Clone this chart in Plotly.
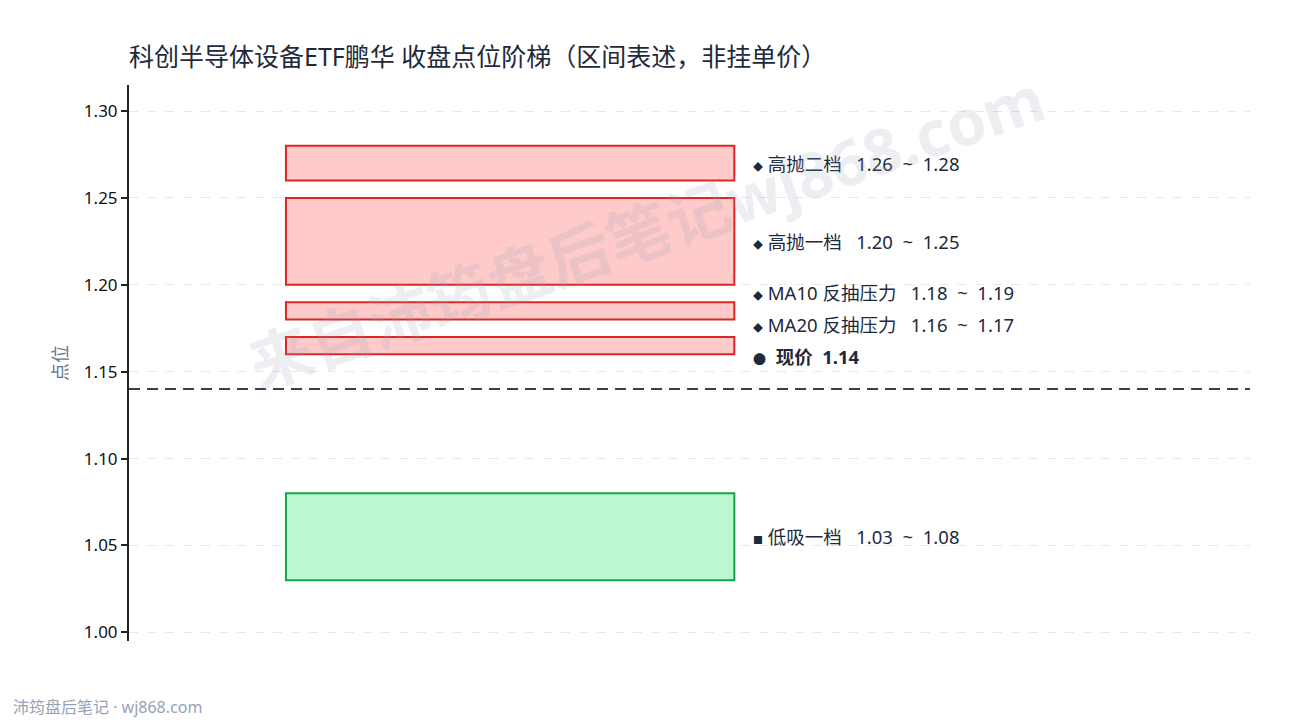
import plotly.graph_objects as go

# ---- data ----
zone_names = ["高抛二档", "高抛一档", "MA10 反抽压力", "MA20 反抽压力", "低吸一档"]
zone_low = [1.26, 1.20, 1.18, 1.16, 1.03]
zone_high = [1.28, 1.25, 1.19, 1.17, 1.08]
zone_kind = ["sell", "sell", "sell", "sell", "buy"]
current_price = 1.14
y_ticks = [1.00, 1.05, 1.10, 1.15, 1.20, 1.25, 1.30]

title = "科创半导体设备ETF鹏华 收盘点位阶梯（区间表述，非挂单价）"
y_title = "点位"
footer = "沛筠盘后笔记 · wj868.com"
watermark = "来自沛筠盘后笔记wj868.com"

FONT = "Noto Sans, Noto Sans CJK SC, sans-serif"
TXT = "#1e293b"
styles = {
    "sell": dict(fill="#fecaca", line="#dc2626", mark="◆"),
    "buy": dict(fill="#bbf7d0", line="#16a34a", mark="■"),
}

# page geometry (the page body adds an 8px offset)
OFF = 8
W, H = 1290 - OFF, 720 - OFF
PL, PR, PT, PB = 129, 1250, 85, 641  # plot area in page pixels
PW, PH = PR - PL, PB - PT

fig = go.Figure()

# invisible trace to establish axes
fig.add_trace(go.Scatter(x=[0, 1], y=[zone_low[-1], zone_high[0]], mode="markers",
                         marker=dict(opacity=0), hoverinfo="skip", showlegend=False))

BX0, BX1, LX = 0.14, 0.54, 0.555

# label placement: bottom-up with minimum gap, current price label just above price
gap = 0.0185
centers = [(lo + hi) / 2 for lo, hi in zip(zone_low, zone_high)]
price_label_y = current_price + gap
label_y = list(centers)
prev = price_label_y
for i in sorted([i for i in range(len(centers)) if centers[i] > current_price], key=lambda k: centers[k]):
    label_y[i] = max(centers[i], prev + gap)
    prev = label_y[i]

SP = "&nbsp;"
for i, (name, lo, hi, kind) in enumerate(zip(zone_names, zone_low, zone_high, zone_kind)):
    st = styles[kind]
    fig.add_shape(type="rect", xref="x", yref="y", x0=BX0, x1=BX1, y0=lo, y1=hi,
                  fillcolor=st["fill"], line=dict(color=st["line"], width=2), layer="between")
    fig.add_annotation(x=LX, y=label_y[i], xref="x", yref="y", xanchor="left", yanchor="middle",
                       text=(f"<span style='font-size:10px'>{st['mark']}</span> {name}{SP*3}"
                             f"{lo:.2f}{SP*2}~{SP*2}{hi:.2f}"),
                       showarrow=False, font=dict(family=FONT, size=18.5, color=TXT))

fig.add_annotation(x=LX, y=price_label_y, xref="x", yref="y", xanchor="left", yanchor="middle",
                   text=f"<b><span style='font-size:13px'>●</span>{SP*2}现价{SP*2}{current_price:.2f}</b>",
                   showarrow=False, font=dict(family=FONT, size=18.5, color=TXT))

fig.add_shape(type="line", xref="paper", yref="y", x0=0, x1=1, y0=current_price, y1=current_price,
              line=dict(color="#334155", width=2, dash="11px,7px"))

# watermark
fig.add_annotation(x=(646 - PL) / PW, y=(PB - 230) / PH, xref="paper", yref="paper",
                   xanchor="center", yanchor="middle", text=f"<b>{watermark}</b>",
                   showarrow=False, textangle=-19,
                   font=dict(family=FONT, size=63, color="rgba(148,163,184,0.18)"))

# footer
fig.add_annotation(x=(11 - PL) / PW, y=(PB - 707) / PH, xref="paper", yref="paper",
                   xanchor="left", yanchor="middle", text=footer, showarrow=False,
                   font=dict(family=FONT, size=16, color="#94a3b8"))

fig.update_layout(
    width=W, height=H,
    margin=dict(l=PL - OFF, r=W + OFF - PR, t=PT - OFF, b=H + OFF - PB),
    paper_bgcolor="white", plot_bgcolor="white",
    title=dict(text=title, x=(PL - OFF) / W, xanchor="left", y=1 - (57 - OFF) / H, yanchor="middle",
               font=dict(family=FONT, size=25, color=TXT)),
    xaxis=dict(range=[0, 1], visible=False, fixedrange=True),
    yaxis=dict(range=[0.995, 1.315], tickvals=y_ticks, ticktext=[f"{v:.2f}" for v in y_ticks],
               showgrid=True, gridcolor="#e5e7eb", griddash="dash", gridwidth=1,
               showline=True, linecolor="#222222", linewidth=2, ticks="outside", ticklen=6,
               tickcolor="#222222", tickwidth=1.5, zeroline=False,
               tickfont=dict(family=FONT, size=17, color="#111111"),
               title=dict(text=y_title, font=dict(family=FONT, size=18, color="#64748b"), standoff=12)),
    showlegend=False,
)

fig.write_html("out.html")
